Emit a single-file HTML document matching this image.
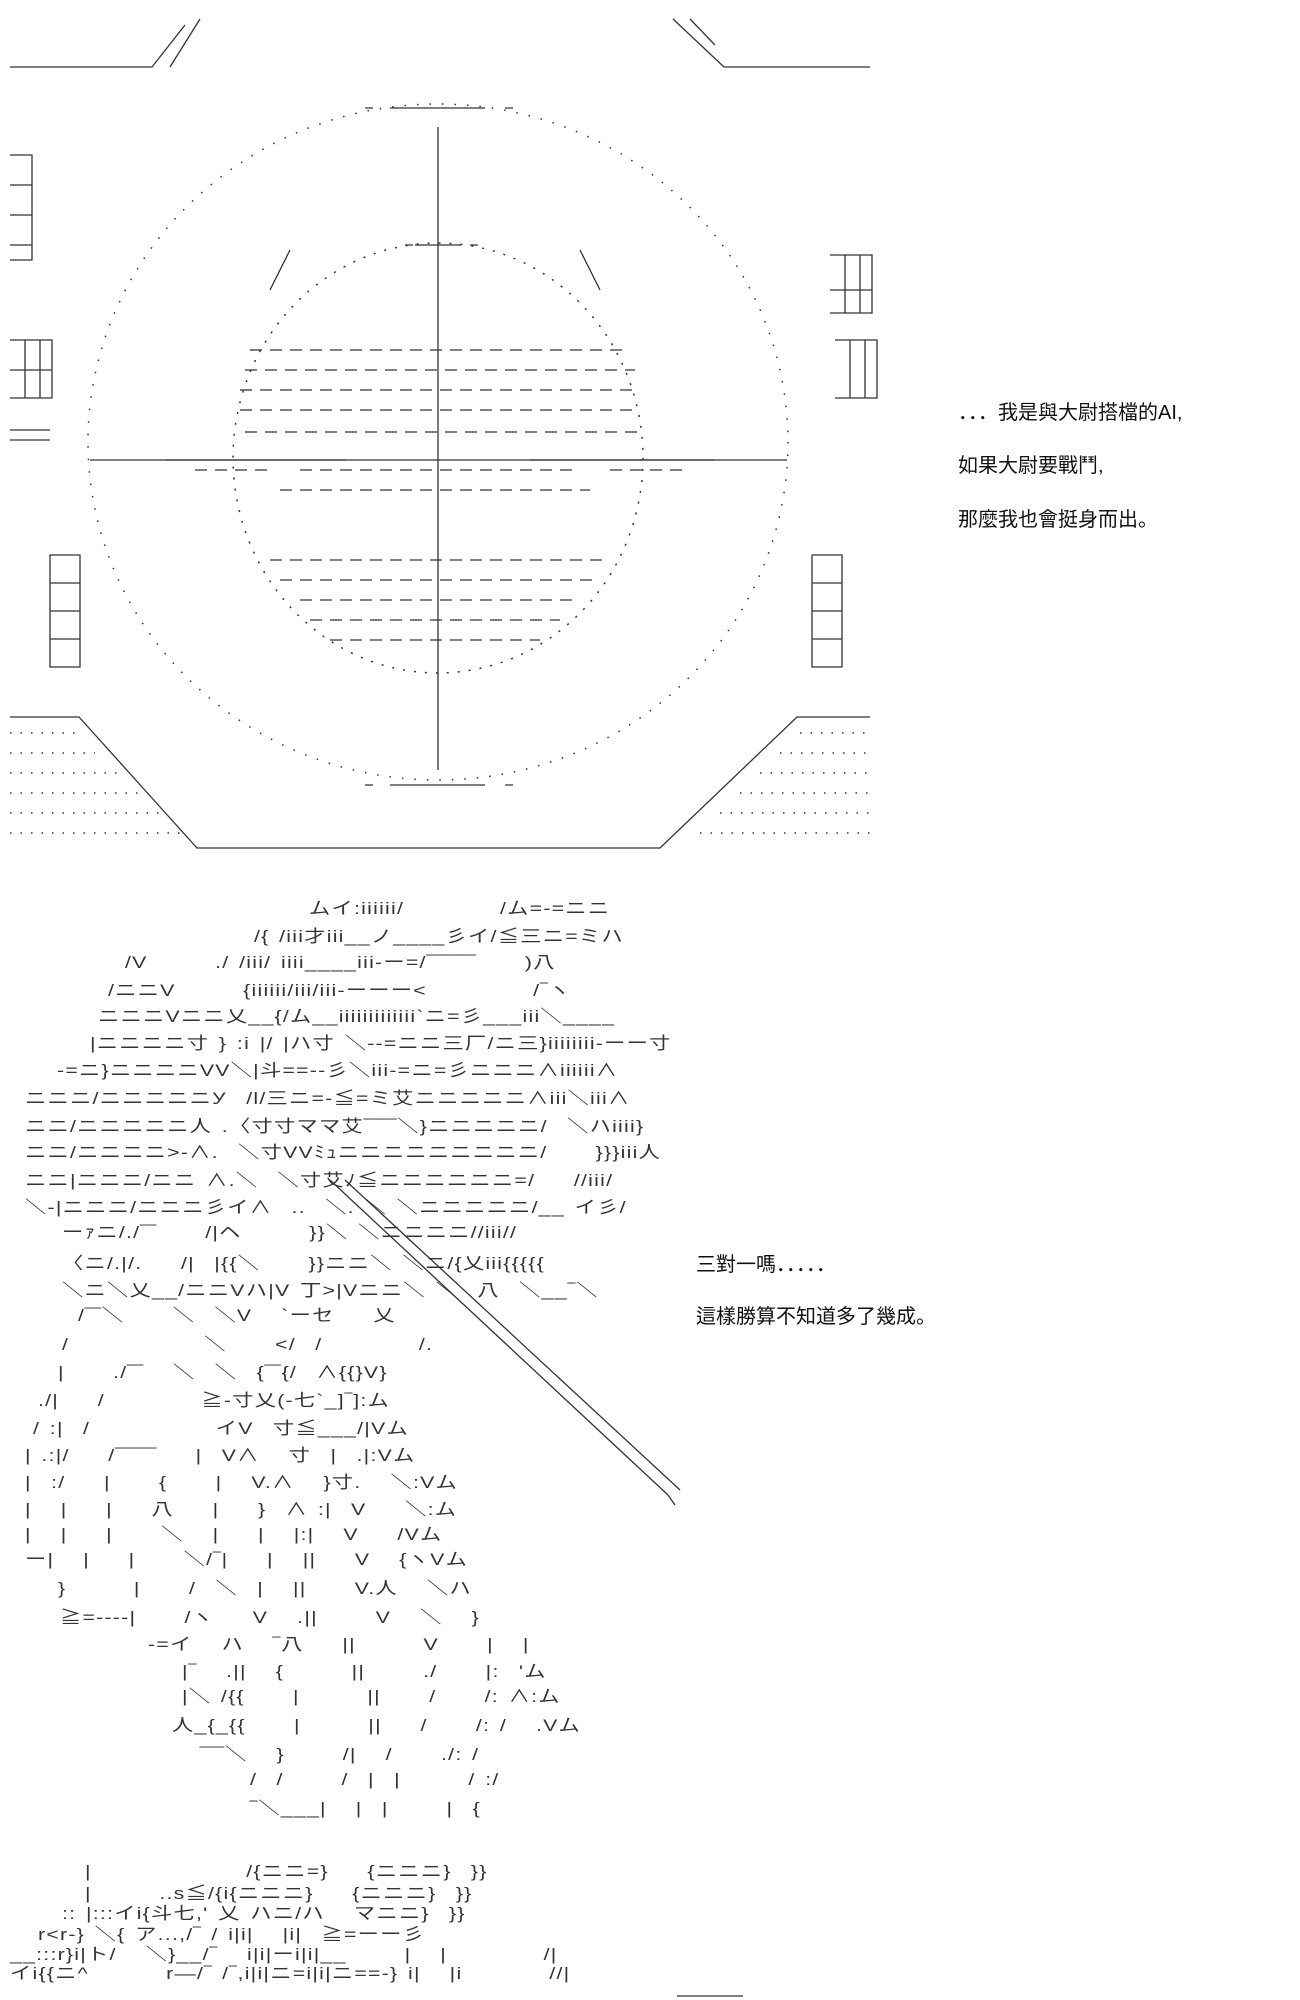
<!DOCTYPE html>
<html><head><meta charset="utf-8">
<style>
html,body{margin:0;padding:0;background:#fff;}
body{width:1300px;height:2000px;position:relative;overflow:hidden;font-family:"Liberation Sans","Noto Sans CJK JP",sans-serif;color:#222;}
.t{position:absolute;font-size:20px;white-space:pre;color:#111;}
.a{position:absolute;font-size:17px;line-height:18px;white-space:pre;color:#333;letter-spacing:1px;word-spacing:2px;transform:scaleX(1.25);transform-origin:0 0;font-family:"Liberation Sans","Noto Sans CJK JP",sans-serif;}
svg{position:absolute;left:0;top:0;}
</style></head><body>
<svg width="1300" height="2000" viewBox="0 0 1300 2000" fill="none" stroke="#333" stroke-width="1.3">
<path d="M10 67 H152 L185 25 M170 67 L200 19"/>
<path d="M673 19 L724 67 H870 M690 19 L715 45"/>
<ellipse cx="438" cy="442" rx="350" ry="338" stroke-dasharray="1.5 11" stroke-width="1.5"/>
<ellipse cx="438" cy="458" rx="205" ry="215" stroke-dasharray="2 9" stroke-width="1.5"/>
<line x1="438" y1="127" x2="438" y2="770"/>
<line x1="90" y1="460" x2="787" y2="460"/>
<path d="M390 108 H485 M365 108 h8 M505 108 h8"/>
<path d="M390 785 H485 M365 785 h8 M505 785 h8"/>
<path d="M415 245 H461 M405 245 h8 M470 245 h8"/>
<g stroke-dasharray="12 8">
<path d="M250 350 H630"/><path d="M245 370 H635"/><path d="M240 390 H640"/><path d="M240 410 H640"/>
<path d="M245 432 H640"/><path d="M195 470 H270 M300 470 H580 M610 470 H690"/>
<path d="M280 490 H590"/><path d="M270 560 H610"/><path d="M280 580 H600"/>
<path d="M300 600 H580"/><path d="M310 620 H560"/><path d="M330 640 H540"/>
</g>
<path d="M165 460 H345 M530 460 H715"/>
<path d="M290 250 L270 290 M580 250 L600 290"/>
<path d="M10 155 h22 v30 h-22 M10 185 h22 v30 h-22 M10 215 h22 v30 h-22 M10 245 h22 v15 h-22"/>
<path d="M10 340 h42 v58 h-42 M25 340 v58 M40 340 v58 M10 370 h42"/>
<path d="M830 255 h42 v58 h-42 M845 255 v58 M860 255 v58 M830 290 h42"/>
<path d="M835 340 h42 v58 h-42 M850 340 v58 M865 340 v58"/>
<path d="M50 555 h30 v112 h-30 z M50 583 h30 M50 611 h30 M50 639 h30"/>
<path d="M812 555 h30 v112 h-30 z M812 583 h30 M812 611 h30 M812 639 h30"/>
<path d="M10 430 h40 M10 440 h40"/>
<path d="M10 717 H79 L197 848 H660 L797 717 H870"/>
<g stroke-dasharray="1.5 9" stroke-width="1.5">
<path d="M10 733 H75 M10 753 H95 M10 773 H120 M10 793 H140 M10 813 H160 M10 833 H180"/>
<path d="M800 733 H870 M780 753 H870 M760 773 H870 M740 793 H870 M720 813 H870 M700 833 H870"/>
</g>
<path d="M330 1180 L668 1495 M345 1180 L680 1490 M668 1495 L675 1505"/>
<path d="M677 1996 H743"/>
</svg>

<div class="t" style="left:958px;top:396px;">．．．我是與大尉搭檔的AI,</div>
<div class="t" style="left:958px;top:449px;">如果大尉要戰鬥,</div>
<div class="t" style="left:958px;top:503px;">那麼我也會挺身而出。</div>
<div class="t" style="left:696px;top:1248px;">三對一嗎．．．．．</div>
<div class="t" style="left:696px;top:1300px;">這樣勝算不知道多了幾成。</div>

<div class="a" style="left:309px;top:900px;">ムイ:iiiiii/</div>
<div class="a" style="left:500px;top:900px;">/ム=-=ニニ</div>
<div class="a" style="left:254px;top:928px;">/{ /iii才iii__ノ____彡イ/≦三ニ=ミハ</div>
<div class="a" style="left:125px;top:954px;">/V       ./ /iii/ iiii____iii-ー=/‾‾‾‾‾‾     )八</div>
<div class="a" style="left:108px;top:982px;">/ニニV       {iiiiii/iii/iii-ーーー&lt;           /‾ヽ</div>
<div class="a" style="left:98px;top:1008px;">ニニニVニニ乂__{/ム__iiiiiiiiiiiii`ニ=彡___iii＼____</div>
<div class="a" style="left:90px;top:1035px;">|ニニニニ寸 } :i |/ |ハ寸 ＼--=ニニ三厂/ニ三}iiiiiiii-ーー寸</div>
<div class="a" style="left:57px;top:1062px;">-=ニ}ニニニニVV＼|斗==--彡＼iii-=ニ=彡ニニニ∧iiiiii∧</div>
<div class="a" style="left:25px;top:1090px;">ニニニ/ニニニニニУ  /l/三ニ=-≦=ミ艾ニニニニニ∧iii＼iii∧</div>
<div class="a" style="left:25px;top:1118px;">ニニ/ニニニニニ人 .〈寸寸ママ艾‾‾‾‾＼}ニニニニニ/  ＼ハiiii}</div>
<div class="a" style="left:25px;top:1144px;">ニニ/ニニニニ>-∧.  ＼寸VVﾐｭニニニニニニニニニ/     }}}iii人</div>
<div class="a" style="left:25px;top:1172px;">ニニ|ニニニ/ニニ ∧.＼  ＼寸艾ﾉ≦ニニニニニニ=/    //iii/</div>
<div class="a" style="left:25px;top:1199px;">＼-|ニニニ/ニニニ彡イ∧  ..  ＼. ＼ ＼ニニニニニ/__ イ彡/</div>
<div class="a" style="left:62px;top:1224px;">ーｧニ/./‾‾     /|ヘ       }}＼ ＼ニニニニ//iii//</div>
<div class="a" style="left:62px;top:1255px;">〈ニ/.|/.    /|  |{{＼     }}ニニ＼ ＼ニ/{乂iii{{{{{</div>
<div class="a" style="left:62px;top:1282px;">＼ニ＼乂__/ニニVハ|V 丁>|Vニニ＼ ＼  八  ＼__‾＼</div>
<div class="a" style="left:78px;top:1307px;">/‾‾＼     ＼  ＼V   `ーセ    乂</div>
<div class="a" style="left:62px;top:1336px;">/              ＼     &lt;/  /          /.</div>
<div class="a" style="left:58px;top:1364px;">|     ./‾‾   ＼  ＼  {‾‾{/  ∧{{}V}</div>
<div class="a" style="left:38px;top:1392px;">./|    /          ≧-寸乂(-七`_]‾]:ム</div>
<div class="a" style="left:33px;top:1420px;">/ :|  /             イV  寸≦___/|Vム</div>
<div class="a" style="left:25px;top:1447px;">| .:|/    /‾‾‾‾‾    |  V∧   寸  |  .|:Vム</div>
<div class="a" style="left:25px;top:1474px;">|  :/    |     {     |   V.∧   }寸.   ＼:Vム</div>
<div class="a" style="left:25px;top:1501px;">|   |    |    八    |    }  ∧ :|  V    ＼:ム</div>
<div class="a" style="left:25px;top:1526px;">|   |    |     ＼   |    |   |:|   V    /Vム</div>
<div class="a" style="left:25px;top:1551px;">ー|   |    |     ＼/‾|    |   ||    V   {ヽVム</div>
<div class="a" style="left:58px;top:1580px;">}       |     /  ＼  |   ||     V.人   ＼ハ</div>
<div class="a" style="left:60px;top:1609px;">≧=----|     /ヽ    V   .||      V   ＼   }</div>
<div class="a" style="left:148px;top:1636px;">-=イ   ハ   ‾八    ||       V     |   |</div>
<div class="a" style="left:182px;top:1663px;">|‾   .||   {       ||      ./     |:  'ム</div>
<div class="a" style="left:182px;top:1688px;">|＼ /{{     |       ||     /     /: ∧:ム</div>
<div class="a" style="left:172px;top:1717px;">人_{_{{     |       ||    /     /: /   .Vム</div>
<div class="a" style="left:200px;top:1746px;">‾‾‾＼   }      /|   /     ./: /</div>
<div class="a" style="left:250px;top:1771px;">/  /      /  |  |       / :/</div>
<div class="a" style="left:250px;top:1800px;">‾＼___|   |  |      |  {</div>
<div class="a" style="left:85px;top:1863px;">|                /{ニニ=}    {ニニニ}  }}</div>
<div class="a" style="left:85px;top:1885px;">|       ..s≦/{i{ニニニ}    {ニニニ}  }}</div>
<div class="a" style="left:62px;top:1905px;">:: |:::イi{斗七,' 乂 ハニ/ハ   マニニ}  }}</div>
<div class="a" style="left:38px;top:1926px;">r&lt;r-} ＼{ ア...,/‾ / i|i|   |i|  ≧=ーー彡</div>
<div class="a" style="left:10px;top:1946px;">__:::r}i|ト/   ＼}__/‾   i|i|ーi|i|__      |   |          /|</div>
<div class="a" style="left:10px;top:1965px;">イi{{ニ^        r―/‾ /‾,i|i|ニ=i|i|ニ==-} i|   |i         //|</div>
</body></html>
